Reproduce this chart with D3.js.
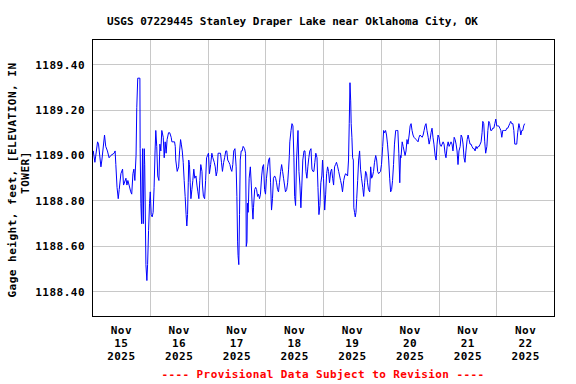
<!DOCTYPE html>
<html>
<head>
<meta charset="utf-8">
<script src="https://cdn.jsdelivr.net/npm/d3@7/dist/d3.min.js"></script>
<style>
  html, body { margin: 0; padding: 0; background: #fff; }
  svg { display: block; }
  text { font-family: "DejaVu Sans Mono", "Liberation Mono", monospace; font-weight: bold; }
</style>
</head>
<body>
<script>
// ---- Data (hours after 2025-11-15 00:00, gage height in feet) ----
const hours = [
  0.0,0.3,1.0,2.1,2.5,3.5,3.9,5.0,5.5,6.2,6.9,7.6,9.0,9.4,9.7,10.2,10.7,11.1,11.8,12.5,
  12.9,13.9,14.3,14.7,15.2,15.9,16.3,16.8,17.2,17.6,18.1,18.4,18.8,19.7,19.8,20.1,20.4,20.8,21.1,21.5,
  21.7,22.2,22.6,22.9,23.3,23.7,24.0,24.4,24.8,25.2,25.6,26.0,26.3,26.7,27.1,27.6,28.0,28.4,28.8,29.4,
  29.8,30.2,30.6,31.0,31.6,32.1,
  32.7,33.0,34.1,34.4,34.6,35.2,35.8,36.2,36.6,36.9,37.3,37.7,38.1,38.5,38.9,39.2,39.5,39.8,40.0,40.3,
  40.6,40.9,41.3,41.7,42.1,42.5,43.0,43.4,43.8,44.2,44.6,45.0,45.5,45.7,46.1,46.6,47.0,47.4,47.8,48.2,
  48.6,49.1,49.6,50.0,50.6,51.0,51.4,51.8,52.2,53.2,53.6,54.0,54.5,54.9,55.4,55.8,56.2,56.7,57.1,57.5,
  57.9,58.3,58.7,59.2,59.7,60.0,60.3,60.5,60.8,61.1,61.4,61.8,62.2,62.6,63.2,63.6,63.8,
  63.9,64.2,64.4,64.7,65.1,65.6,66.0,66.4,66.7,66.9,67.4,67.8,68.2,68.6,69.0,69.4,69.8,70.3,70.7,71.1,
  71.5,71.9,72.3,72.8,73.2,73.6,74.0,74.4,74.8,75.2,75.7,76.1,76.5,76.9,77.3,77.7,78.2,78.6,79.0,79.4,
  79.8,80.2,80.7,81.1,81.5,81.8,82.0,82.5,82.9,83.3,83.7,84.0,84.4,84.8,85.4,85.8,86.2,86.6,87.0,87.4,
  87.9,88.3,88.7,89.1,89.5,89.9,90.3,90.8,91.2,91.6,92.0,92.4,92.8,93.3,93.7,94.1,94.5,94.9,95.3,
  95.6,96.0,96.5,96.9,97.3,97.7,98.1,98.5,99.0,99.4,99.8,100.2,100.6,101.0,101.4,101.9,102.3,102.7,103.1,103.5,
  103.9,104.4,104.8,105.2,106.0,106.4,106.7,107.0,107.3,107.5,107.8,108.1,108.4,108.6,108.9,109.2,109.5,109.8,110.2,110.6,
  111.0,111.4,111.8,112.3,112.7,113.1,113.5,113.9,114.3,114.7,115.2,115.6,116.0,116.4,116.8,117.2,117.7,118.1,118.5,118.9,
  119.7,120.1,120.6,121.0,121.4,121.8,122.2,122.6,123.1,123.5,123.9,124.3,124.7,125.1,125.5,126.0,126.4,126.9,
  127.3,127.7,128.0,128.2,128.7,129.1,129.5,129.9,130.3,130.7,131.1,131.6,132.0,132.4,132.8,133.2,133.6,134.5,135.3,135.7,
  136.1,137.0,137.4,137.8,138.2,138.6,139.0,139.5,139.9,140.3,140.7,141.1,141.5,141.9,142.4,142.8,143.2,143.6,144.0,144.4,
  144.9,145.3,145.7,146.1,146.5,146.9,147.4,147.8,148.2,148.6,149.0,149.4,149.8,150.3,150.7,151.1,151.5,151.9,152.3,152.8,
  153.2,153.6,154.0,154.4,154.8,155.2,155.7,156.1,156.5,156.9,157.3,157.7,158.2,158.6,
  159.0,159.4,159.8,160.3,160.7,161.1,161.5,161.9,162.2,162.6,163.0,163.4,163.9,164.3,164.7,165.1,165.5,165.9,166.3,166.8,
  167.2,167.6,168.0,168.4,168.8,169.3,169.7,170.1,170.5,170.9,171.3,171.8,172.2,172.6,173.0,173.4,173.8,174.2,174.7,175.1,
  175.5,176.3,176.7,177.2,177.6,178.0,178.4,178.8,179.2,179.6
];
const gage = [
  1189.00,1189.02,1188.97,1189.06,1189.05,1188.95,1188.98,1189.09,1189.04,1189.02,1188.99,1189.00,1189.01,1189.02,1188.96,1188.86,1188.81,1188.85,1188.92,1188.94,
  1188.87,1188.90,1188.87,1188.89,1188.87,1188.84,1188.83,1188.92,1188.94,1188.89,1189.00,1189.21,1189.34,1189.34,1189.03,1188.79,1188.70,1189.03,1188.70,1189.03,
  1188.96,1188.52,1188.45,1188.52,1188.67,1188.79,1188.84,1188.74,1188.73,1188.75,1188.86,1189.02,1189.11,1189.04,1188.91,1188.89,1189.05,1189.02,1189.11,1189.08,
  1188.99,1189.06,1189.01,1189.07,1189.10,1189.10,
  1189.08,1189.06,1189.06,1189.04,1188.98,1188.93,1188.95,1189.02,1189.07,1189.05,1189.02,1188.97,1188.89,1188.82,1188.74,1188.69,1188.74,1188.88,1188.98,1188.96,
  1188.88,1188.81,1188.85,1188.89,1188.94,1188.90,1188.91,1188.87,1188.84,1188.81,1188.89,1188.96,1188.93,1188.87,1188.82,1188.81,1188.89,1188.99,1189.00,1189.01,
  1188.92,1188.96,1189.01,1188.99,1188.97,1188.95,1188.91,1188.93,1189.01,1189.01,1188.97,1188.93,1188.97,1188.99,1189.02,1189.02,1188.98,1188.97,1188.96,1188.94,
  1188.93,1188.96,1189.02,1189.03,1188.95,1188.82,1188.62,1188.56,1188.52,1188.74,1188.98,1189.02,1189.02,1189.04,1189.03,1189.01,1188.80,
  1188.60,1188.62,1188.79,1188.75,1188.90,1188.95,1188.87,1188.77,1188.72,1188.77,1188.85,1188.86,1188.85,1188.82,1188.83,1188.81,1188.83,1188.91,1188.95,1188.96,
  1188.85,1188.83,1188.90,1188.95,1188.98,1188.99,1188.88,1188.76,1188.81,1188.90,1188.91,1188.90,1188.88,1188.85,1188.84,1188.88,1188.93,1188.96,1188.93,1188.90,
  1188.87,1188.84,1188.85,1188.88,1188.94,1189.00,1189.06,1189.11,1189.14,1189.13,1188.99,1188.82,1188.78,1188.98,1189.11,1188.93,1188.87,1188.77,1188.87,1188.98,
  1189.02,1189.02,1188.93,1188.90,1188.95,1188.99,1189.02,1189.03,1188.94,1188.93,1188.93,1188.97,1189.01,1188.99,1188.86,1188.74,1188.78,1188.88,1188.91,
  1188.98,1188.90,1188.76,1188.83,1188.92,1188.95,1188.93,1188.88,1188.93,1188.94,1188.90,1188.87,1188.95,1188.96,1188.97,1188.95,1188.93,1188.91,1188.89,1188.87,
  1188.84,1188.89,1188.91,1188.92,1188.91,1188.98,1189.14,1189.32,1189.24,1189.14,1189.08,1188.99,1188.98,1188.77,1188.75,1188.73,1188.75,1188.81,1188.89,1188.98,
  1189.02,1188.94,1188.90,1188.86,1188.82,1188.88,1188.93,1188.92,1188.88,1188.85,1188.84,1188.95,1188.90,1188.91,1188.93,1188.97,1189.00,1188.98,1188.93,1188.92,
  1188.93,1188.96,1189.04,1189.11,1189.10,1189.11,1189.09,1189.05,1188.98,1188.90,1188.84,1188.85,1188.89,1188.96,1189.05,1189.11,1189.11,1189.11,
  1189.01,1188.88,1189.00,1188.99,1189.06,1189.04,1189.02,1189.00,1189.02,1189.07,1189.05,1189.09,1189.13,1189.14,1189.11,1189.09,1189.08,1189.07,1189.06,1189.08,
  1189.09,1189.08,1189.09,1189.11,1189.13,1189.14,1189.11,1189.08,1189.05,1189.07,1189.10,1189.12,1189.08,1189.05,1189.00,1188.98,1189.05,1189.09,1189.08,1189.05,
  1189.04,1189.05,1189.06,1189.05,1189.01,1188.99,1189.04,1189.06,1189.04,1189.05,1189.06,1189.05,1189.02,1189.08,1189.07,1189.05,1189.02,1188.96,1189.02,1189.04,
  1189.09,1189.08,1189.05,1188.99,1188.97,1189.02,1189.07,1189.09,1189.07,1189.05,1189.05,1189.04,1189.03,1189.03,
  1189.02,1189.04,1189.03,1189.04,1189.04,1189.05,1189.06,1189.10,1189.15,1189.14,1189.06,1189.01,1189.04,1189.11,1189.15,1189.14,1189.11,1189.11,1189.12,1189.12,
  1189.14,1189.16,1189.13,1189.13,1189.13,1189.12,1189.11,1189.08,1189.11,1189.11,1189.11,1189.11,1189.12,1189.12,1189.13,1189.14,1189.15,1189.14,1189.14,1189.11,
  1189.05,1189.05,1189.10,1189.14,1189.12,1189.09,1189.11,1189.11,1189.13,1189.14
];
const yTicks = [1188.40, 1188.60, 1188.80, 1189.00, 1189.20, 1189.40];
const tickMonths = ["Nov","Nov","Nov","Nov","Nov","Nov","Nov","Nov"];
const tickDays = ["15","16","17","18","19","20","21","22"];
const tickYears = ["2025","2025","2025","2025","2025","2025","2025","2025"];
const titleText = "USGS 07229445 Stanley Draper Lake near Oklahoma City, OK";
const yLabelLines = ["Gage height, feet, [ELEVATION, IN", "TOWER]"];
const footerText = "---- Provisional Data Subject to Revision ----";

// ---- Layout ----
const W = 576, H = 384;
const L = 92.5, R = 554.5, T = 39.5, B = 316.5;
const t0 = Date.UTC(2025, 10, 15);
const HOUR = 3600e3;

const svg = d3.select("body").append("svg").attr("width", W).attr("height", H);

const x = d3.scaleUtc().domain([new Date(t0), new Date(Date.UTC(2025, 10, 23))]).range([L, R]);
const y = d3.scaleLinear().domain([1188.292, 1189.51]).range([B, T]);

// grid
const gridDays = d3.utcDay.range(new Date(t0 + 24 * HOUR), new Date(Date.UTC(2025, 10, 23)));
svg.append("g").selectAll("line").data(gridDays).join("line")
  .attr("x1", d => x(d)).attr("x2", d => x(d)).attr("y1", T).attr("y2", B)
  .attr("stroke", "#c8c8c8").attr("stroke-width", 1).attr("shape-rendering", "crispEdges");
svg.append("g").selectAll("line").data(yTicks).join("line")
  .attr("x1", L).attr("x2", R).attr("y1", d => y(d)).attr("y2", d => y(d))
  .attr("stroke", "#c8c8c8").attr("stroke-width", 1).attr("shape-rendering", "crispEdges");

// data line
const pts = hours.map((h, i) => ({ t: new Date(t0 + h * HOUR), v: gage[i] }));
svg.append("path").datum(pts)
  .attr("fill", "none").attr("stroke", "#0000ff").attr("stroke-width", 1)
  .attr("d", d3.line().x(d => x(d.t)).y(d => y(d.v)));

// border
svg.append("rect").attr("x", L).attr("y", T).attr("width", R - L).attr("height", B - T)
  .attr("fill", "none").attr("stroke", "#000").attr("stroke-width", 1).attr("shape-rendering", "crispEdges");

// y tick labels
svg.append("g").selectAll("text").data(yTicks).join("text")
  .attr("x", 85).attr("y", d => y(d) + 4)
  .attr("text-anchor", "end").attr("font-size", 11).attr("letter-spacing", 0.5)
  .text(d => d3.format(".2f")(d));

// x tick labels (noon of each day)
const labelDates = tickDays.map((d, i) => new Date(t0 + (i * 24 + 12) * HOUR));
const xl = svg.append("g").selectAll("text").data(labelDates).join("text")
  .attr("text-anchor", "middle").attr("font-size", 11).attr("letter-spacing", 0.5);
xl.append("tspan").attr("x", d => x(d)).attr("y", 334).text((d, i) => tickMonths[i]);
xl.append("tspan").attr("x", d => x(d)).attr("y", 347).text((d, i) => tickDays[i]);
xl.append("tspan").attr("x", d => x(d)).attr("y", 360).text((d, i) => tickYears[i]);

// title
svg.append("text").attr("x", 292.5).attr("y", 25).attr("text-anchor", "middle")
  .attr("font-size", 11).text(titleText);

// y label
svg.append("text").attr("transform", "translate(16,180) rotate(-90)")
  .attr("text-anchor", "middle").attr("font-size", 11).attr("letter-spacing", 0.5).text(yLabelLines[0]);
svg.append("text").attr("transform", "translate(28.5,172.5) rotate(-90)")
  .attr("text-anchor", "middle").attr("font-size", 11).attr("letter-spacing", 0.5).text(yLabelLines[1]);

// footer
svg.append("text").attr("x", 323).attr("y", 378).attr("text-anchor", "middle")
  .attr("font-size", 11).attr("letter-spacing", 0.4).attr("fill", "#ff0000").text(footerText);
</script>
</body>
</html>
